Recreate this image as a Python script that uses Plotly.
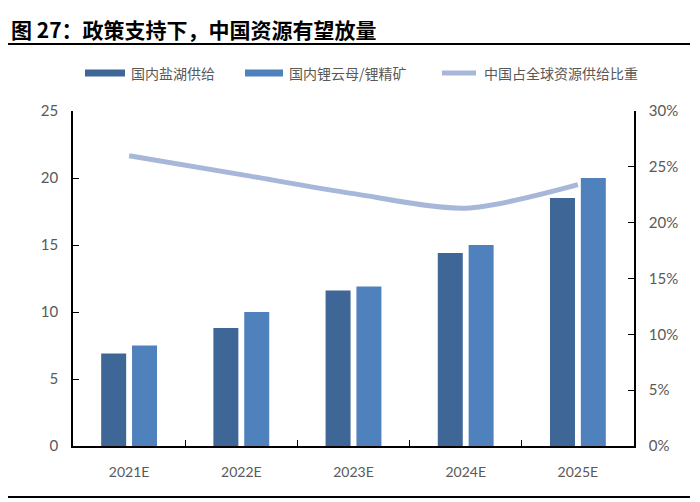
import plotly.graph_objects as go

categories = ["2021E", "2022E", "2023E", "2024E", "2025E"]
salt_lake = [6.9, 8.8, 11.6, 14.4, 18.5]
lepidolite = [7.5, 10.0, 11.9, 15.0, 20.0]
share = [0.260, 0.243, 0.226, 0.213, 0.234]

names = ["国内盐湖供给", "国内锂云母/锂精矿", "中国占全球资源供给比重"]
c_dark = "#3E6696"
c_light = "#4F81BD"
c_line = "#A7B7D9"
txt = "#595959"
cjk = "Noto Sans CJK SC"

fig = go.Figure()
fig.add_trace(go.Bar(x=categories, y=salt_lake, name=names[0], marker_color=c_dark,
                     marker_line_width=0, showlegend=False))
fig.add_trace(go.Bar(x=categories, y=lepidolite, name=names[1], marker_color=c_light,
                     marker_line_width=0, showlegend=False))
fig.add_trace(go.Scatter(x=categories, y=share, name=names[2], yaxis="y2", mode="lines",
                         line=dict(color=c_line, width=5, shape="spline", smoothing=0.8),
                         showlegend=False))

# page body has an 8px margin: work in window pixels and offset
OFF = 8
W, H = 700 - OFF, 502 - OFF
ML, MR, MT, MB = 73 - OFF, 66, 111 - OFF, 56
PW, PH = W - ML - MR, H - MT - MB

def px(x):
    return (x - OFF - ML) / PW
def py(y):
    return (H - MB - (y - OFF)) / PH

shapes = []
annotations = []
# title and rules
annotations.append(dict(text="<b>图 27：政策支持下，中国资源有望放量</b>", xref="paper", yref="paper",
                        x=px(9), y=py(29), xanchor="left", yanchor="middle", showarrow=False,
                        font=dict(family=cjk, size=21, color="#000000")))
shapes.append(dict(type="line", xref="paper", yref="paper", x0=px(8), x1=px(690),
                   y0=py(44), y1=py(44), line=dict(color="#000000", width=2)))
shapes.append(dict(type="line", xref="paper", yref="paper", x0=px(8), x1=px(690),
                   y0=py(497), y1=py(497), line=dict(color="#000000", width=2)))

# custom legend
leg_y = 73
items = [(85, 125, c_dark, "rect", names[0]),
         (245, 283, c_light, "rect", names[1]),
         (440, 478, c_line, "line", names[2])]
for x0, x1, col, kind, label in items:
    if kind == "rect":
        shapes.append(dict(type="rect", xref="paper", yref="paper", x0=px(x0), x1=px(x1),
                           y0=py(leg_y + 3.5), y1=py(leg_y - 3.5), fillcolor=col, line_width=0))
    else:
        shapes.append(dict(type="line", xref="paper", yref="paper", x0=px(x0 + 2), x1=px(x1 - 2),
                           y0=py(leg_y), y1=py(leg_y), line=dict(color=col, width=5)))
    annotations.append(dict(text=label, xref="paper", yref="paper", x=px(x1 + 4), y=py(leg_y),
                            xanchor="left", yanchor="middle", showarrow=False,
                            font=dict(family=cjk, size=14, color=txt)))

fig.update_layout(
    width=W, height=H,
    margin=dict(l=ML, r=MR, t=MT, b=MB),
    paper_bgcolor="white", plot_bgcolor="white",
    barmode="group", bargap=0.45, bargroupgap=0.19,
    font=dict(family="Lato, " + cjk, size=14, color=txt),
    shapes=shapes, annotations=annotations,
    xaxis=dict(showline=True, linecolor="#000000", linewidth=1.5, ticks="inside",
               tickcolor="#000000", ticklen=6, tickson="boundaries", showgrid=False,
               tickfont=dict(size=14, color=txt), ticklabelstandoff=12),
    yaxis=dict(range=[0, 25], dtick=5, showline=True, linecolor="#000000", linewidth=1.5,
               ticks="inside", tickcolor="#000000", ticklen=6, showgrid=False, zeroline=False,
               tickfont=dict(size=15, color=txt), ticklabelstandoff=10),
    yaxis2=dict(range=[0, 0.30], dtick=0.05, tickformat=".0%", overlaying="y", side="right",
                showline=True, linecolor="#000000", linewidth=1.5, ticks="inside",
                tickcolor="#000000", ticklen=6, showgrid=False, zeroline=False,
                tickfont=dict(size=15, color=txt), ticklabelstandoff=10),
)

fig.write_html("out.html")
